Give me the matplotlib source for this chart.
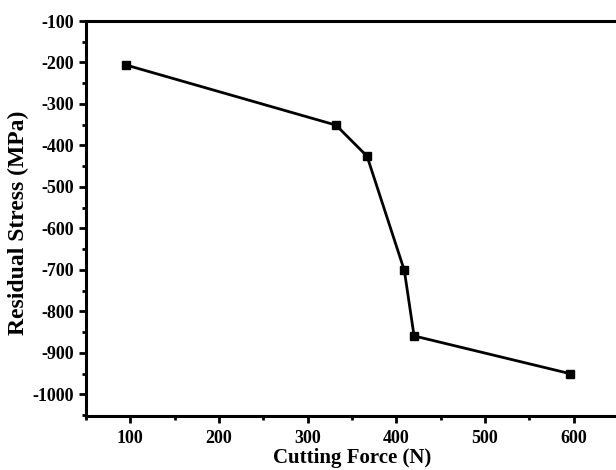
import matplotlib
matplotlib.use("Agg")
import matplotlib.pyplot as plt
from matplotlib.ticker import MultipleLocator

cutting_force = [95, 332, 367, 409, 420, 596]
residual_stress = [-206, -351, -426, -701, -859, -950]
x_ticks = [100, 200, 300, 400, 500, 600]
y_ticks = [-1000, -900, -800, -700, -600, -500, -400, -300, -200, -100]

plt.rcParams['font.family'] = ['Liberation Serif', 'DejaVu Serif']
plt.rcParams['font.weight'] = 'bold'

fig = plt.figure(figsize=(6.16, 4.70), dpi=100)
W, H = 616, 470
left, right, top, bottom = 86, 618, 21, 416
ax = fig.add_axes([left / W, 1 - bottom / H, (right - left) / W, (bottom - top) / H])

ax.plot(cutting_force, residual_stress, color='black', linewidth=2.0,
        marker='s', markersize=5.5, markerfacecolor='black', markeredgecolor='black')

ax.set_xlim(50, 650)
ax.set_ylim(-1052, -100)
ax.set_xticks(x_ticks)
ax.set_yticks(y_ticks)
ax.set_xticklabels([str(v) for v in x_ticks])
ax.set_yticklabels([str(v) for v in y_ticks])
ax.xaxis.set_minor_locator(MultipleLocator(50))
ax.yaxis.set_minor_locator(MultipleLocator(50))

for s in ax.spines.values():
    s.set_linewidth(2.2)

ax.tick_params(which='major', direction='out', length=5, width=2.0, labelsize=13)
ax.tick_params(axis='x', which='major', pad=5)
ax.tick_params(axis='y', which='major', pad=4)
ax.tick_params(which='minor', direction='out', length=3, width=2.0)
for lab in ax.get_xticklabels() + ax.get_yticklabels():
    lab.set_fontweight('bold')

ax.set_xlabel('Cutting Force (N)', fontsize=15, fontweight='bold', labelpad=1)
ax.set_ylabel('Residual Stress (MPa)', fontsize=17, fontweight='bold', va='center')
# place y label centre at ~x=18px, y=223px
ax.yaxis.set_label_coords((18 - left) / (right - left), (bottom - 223) / (bottom - top))

fig.savefig('out.png', dpi=100)
